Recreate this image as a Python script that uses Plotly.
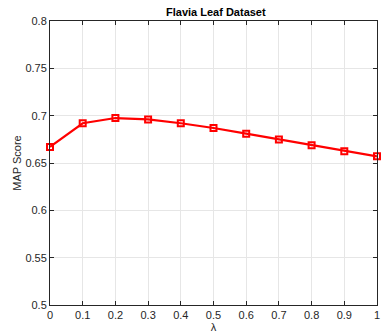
import plotly.graph_objects as go

lam = [0, 0.1, 0.2, 0.3, 0.4, 0.5, 0.6, 0.7, 0.8, 0.9, 1.0]
map_score = [0.667, 0.692, 0.6975, 0.696, 0.692, 0.687, 0.681, 0.6748, 0.6688, 0.6625, 0.657]
x_ticks = [0, 0.1, 0.2, 0.3, 0.4, 0.5, 0.6, 0.7, 0.8, 0.9, 1]
x_tick_labels = ["0", "0.1", "0.2", "0.3", "0.4", "0.5", "0.6", "0.7", "0.8", "0.9", "1"]
y_ticks = [0.5, 0.55, 0.6, 0.65, 0.7, 0.75, 0.8]
y_tick_labels = ["0.5", "0.55", "0.6", "0.65", "0.7", "0.75", "0.8"]

FONT = "Liberation Sans, Arial, sans-serif"

fig = go.Figure()
fig.add_trace(go.Scatter(
    x=lam, y=map_score, mode="lines+markers",
    line=dict(color="#ff0000", width=2.2),
    marker=dict(symbol="square-open", size=6, color="#ff0000", line=dict(width=2, color="#ff0000")),
    showlegend=False, cliponaxis=False,
))

axis_common = dict(
    showline=True, linecolor="#262626", linewidth=1, mirror="ticks",
    ticks="inside", ticklen=4, tickcolor="#262626", tickwidth=1,
    showgrid=True, gridcolor="#e6e6e6", gridwidth=1, zeroline=False,
    tickfont=dict(family=FONT, size=11, color="#262626"),
    ticklabeloverflow="allow",
)

fig.update_layout(
    width=382, height=335,
    margin=dict(l=50, r=2, t=21, b=30),
    paper_bgcolor="white", plot_bgcolor="white",
    title=dict(text="<b>Flavia Leaf Dataset</b>", x=0.565, xanchor="center", y=0.963, yanchor="middle",
               font=dict(family=FONT, size=11, color="#000000")),
    xaxis=dict(range=[0, 1], tickvals=x_ticks, ticktext=x_tick_labels,
               title=dict(text="λ", standoff=1, font=dict(family=FONT, size=11, color="#262626")),
               **axis_common),
    yaxis=dict(range=[0.5, 0.8], tickvals=y_ticks, ticktext=y_tick_labels,
               title=dict(text="MAP Score", standoff=1, font=dict(family=FONT, size=11, color="#262626")),
               **axis_common),
)

fig.write_html("out.html")
